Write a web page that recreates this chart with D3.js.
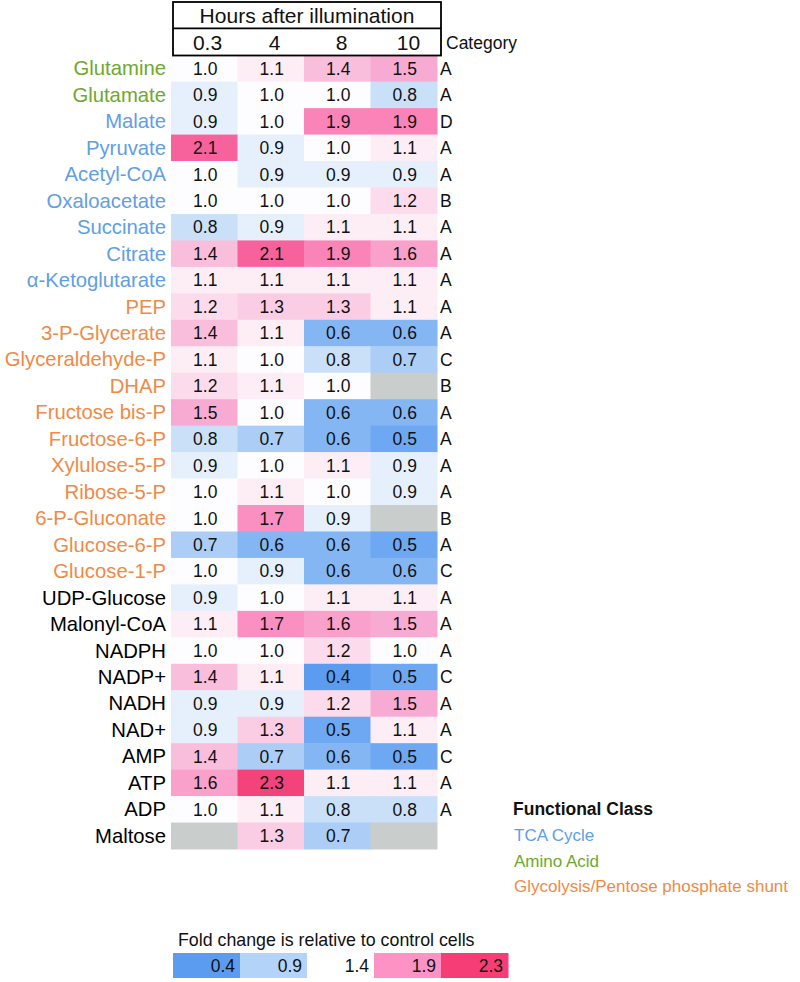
<!DOCTYPE html>
<html>
<head>
<meta charset="utf-8">
<script src="https://cdn.jsdelivr.net/npm/d3@7"></script>
<style>
  html, body { margin: 0; padding: 0; background: #fff; }
  svg { display: block; font-family: "Liberation Sans", Arial, Helvetica, sans-serif; }
</style>
</head>
<body>
<svg id="chart" width="800" height="982"></svg>
<script>
// ---------------- DATA ----------------
const timepoints = ["0.3", "4", "8", "10"];
const metabolites = [
  "Glutamine", "Glutamate", "Malate", "Pyruvate", "Acetyl-CoA", "Oxaloacetate",
  "Succinate", "Citrate", "α-Ketoglutarate", "PEP", "3-P-Glycerate", "Glyceraldehyde-P",
  "DHAP", "Fructose bis-P", "Fructose-6-P", "Xylulose-5-P", "Ribose-5-P", "6-P-Gluconate",
  "Glucose-6-P", "Glucose-1-P", "UDP-Glucose", "Malonyl-CoA", "NADPH", "NADP+",
  "NADH", "NAD+", "AMP", "ATP", "ADP", "Maltose"
];
// functional class of each metabolite: amino, tca, glyc, none
const functionalClass = [
  "amino", "amino", "tca", "tca", "tca", "tca",
  "tca", "tca", "tca", "glyc", "glyc", "glyc",
  "glyc", "glyc", "glyc", "glyc", "glyc", "glyc",
  "glyc", "glyc", "none", "none", "none", "none",
  "none", "none", "none", "none", "none", "none"
];
const categories = [
  "A", "A", "D", "A", "A", "B", "A", "A", "A", "A", "A", "C",
  "B", "A", "A", "A", "A", "B", "A", "C", "A", "A", "A", "C",
  "A", "A", "C", "A", "A", ""
];
// fold change values per time point (null = missing)
const values_0_3 = [1.0, 0.9, 0.9, 2.1, 1.0, 1.0, 0.8, 1.4, 1.1, 1.2, 1.4, 1.1, 1.2, 1.5, 0.8, 0.9, 1.0, 1.0, 0.7, 1.0, 0.9, 1.1, 1.0, 1.4, 0.9, 0.9, 1.4, 1.6, 1.0, null];
const values_4   = [1.1, 1.0, 1.0, 0.9, 0.9, 1.0, 0.9, 2.1, 1.1, 1.3, 1.1, 1.0, 1.1, 1.0, 0.7, 1.0, 1.1, 1.7, 0.6, 0.9, 1.0, 1.7, 1.0, 1.1, 0.9, 1.3, 0.7, 2.3, 1.1, 1.3];
const values_8   = [1.4, 1.0, 1.9, 1.0, 0.9, 1.0, 1.1, 1.9, 1.1, 1.3, 0.6, 0.8, 1.0, 0.6, 0.6, 1.1, 1.0, 0.9, 0.6, 0.6, 1.1, 1.6, 1.2, 0.4, 1.2, 0.5, 0.6, 1.1, 0.8, 0.7];
const values_10  = [1.5, 0.8, 1.9, 1.1, 0.9, 1.2, 1.1, 1.6, 1.1, 1.1, 0.6, 0.7, null, 0.6, 0.5, 0.9, 0.9, null, 0.5, 0.6, 1.1, 1.5, 1.0, 0.5, 1.5, 1.1, 0.5, 1.1, 0.8, null];
const seriesValues = [values_0_3, values_4, values_8, values_10];

// colour legend
const legendValues = [0.4, 0.9, 1.4, 1.9, 2.3];
const legendColors = ["#5b9cf0", "#b3d4f8", "#ffffff", "#fd92c5", "#f73d76"];

// functional class legend
const classKeys = ["tca", "amino", "glyc"];
const classLabels = ["TCA Cycle", "Amino Acid", "Glycolysis/Pentose phosphate shunt"];

// ---------------- STYLE ----------------
const classColor = { amino: "#6fa82c", tca: "#619ee3", glyc: "#ef8a47", none: "#000000" };
const stopValues = [0.4, 0.5, 0.6, 0.7, 0.8, 0.9, 1.0, 1.1, 1.2, 1.3, 1.4, 1.5, 1.6, 1.7, 1.9, 2.1, 2.3];
const stopColors = ["#5b9bf0", "#6ea8f2", "#84b6f4", "#abcdf6", "#cae0f9", "#e5f0fc", "#fdfdff",
                    "#fdeef6", "#fcdcec", "#fbcde4", "#f9bedc", "#f8abd2", "#f9a0cb", "#fa90c1",
                    "#fa83b8", "#f7629c", "#f2447a"];
const missingColor = "#c9cecd";

const color = d3.scaleLinear().domain(stopValues).range(stopColors).clamp(true);

const svg = d3.select("#chart");

// scales
const x = d3.scaleBand().domain(timepoints).range([171, 437]).padding(0);
const y = d3.scaleBand().domain(metabolites).range([55.2, 849]).padding(0);

// flatten cells
const cells = [];
metabolites.forEach((m, i) => {
  timepoints.forEach((t, j) => {
    cells.push({ m, t, v: seriesValues[j][i] });
  });
});

// cells
svg.append("g").selectAll("rect")
  .data(cells)
  .join("rect")
  .attr("x", d => x(d.t))
  .attr("y", d => y(d.m))
  .attr("width", x.bandwidth() + 0.5)
  .attr("height", y.bandwidth() + 0.5)
  .attr("fill", d => d.v == null ? missingColor : color(d.v));

svg.append("g").selectAll("text")
  .data(cells.filter(d => d.v != null))
  .join("text")
  .attr("x", d => x(d.t) + x.bandwidth() / 2 + 1)
  .attr("y", d => y(d.m) + y.bandwidth() / 2 + 6.3)
  .attr("text-anchor", "middle")
  .attr("font-size", 17.5)
  .attr("fill", "#111")
  .text(d => d.v.toFixed(1));

// row labels
svg.append("g").selectAll("text")
  .data(metabolites)
  .join("text")
  .attr("x", 166)
  .attr("y", d => y(d) + y.bandwidth() / 2 + 7)
  .attr("text-anchor", "end")
  .attr("font-size", 20.3)
  .attr("fill", (d, i) => classColor[functionalClass[i]])
  .text(d => d);

// category letters
svg.append("g").selectAll("text")
  .data(metabolites)
  .join("text")
  .attr("x", 440)
  .attr("y", d => y(d) + y.bandwidth() / 2 + 6.3)
  .attr("font-size", 17.5)
  .attr("fill", "#111")
  .text((d, i) => categories[i]);

// header box
const hx = d3.scaleBand().domain(timepoints).range([173, 441]);
const header = svg.append("g");
header.append("rect")
  .attr("x", 173).attr("y", 2).attr("width", 268).attr("height", 53.5)
  .attr("fill", "none").attr("stroke", "#000").attr("stroke-width", 1.8);
header.append("line")
  .attr("x1", 173).attr("x2", 441).attr("y1", 28.3).attr("y2", 28.3)
  .attr("stroke", "#000").attr("stroke-width", 1.8);
header.append("text")
  .attr("x", 307).attr("y", 23)
  .attr("text-anchor", "middle").attr("font-size", 21).attr("fill", "#111")
  .text("Hours after illumination");
header.selectAll("text.tp")
  .data(timepoints)
  .join("text")
  .attr("class", "tp")
  .attr("x", d => hx(d) + hx.bandwidth() / 2 + 1)
  .attr("y", 50)
  .attr("text-anchor", "middle").attr("font-size", 21).attr("fill", "#111")
  .text(d => d);
header.append("text")
  .attr("x", 446).attr("y", 49)
  .attr("font-size", 17.5).attr("fill", "#111")
  .text("Category");

// functional class legend
const fl = svg.append("g");
fl.append("text")
  .attr("x", 513).attr("y", 815)
  .attr("font-size", 17.5).attr("font-weight", "bold").attr("fill", "#111")
  .text("Functional Class");
fl.selectAll("text.cl")
  .data(classKeys)
  .join("text")
  .attr("class", "cl")
  .attr("x", 514)
  .attr("y", (d, i) => 841 + i * 25.5)
  .attr("font-size", 17)
  .attr("fill", d => classColor[d])
  .text((d, i) => classLabels[i]);

// colour legend
const lx = d3.scaleBand().domain(legendValues.map(String)).range([173, 508]);
const cl = svg.append("g");
cl.append("text")
  .attr("x", 178).attr("y", 946)
  .attr("font-size", 17.8).attr("fill", "#111")
  .text("Fold change is relative to control cells");
cl.selectAll("rect")
  .data(legendValues)
  .join("rect")
  .attr("x", d => lx(String(d)))
  .attr("y", 953)
  .attr("width", lx.bandwidth() + 0.5)
  .attr("height", 25)
  .attr("fill", (d, i) => legendColors[i]);
cl.selectAll("text.lv")
  .data(legendValues)
  .join("text")
  .attr("class", "lv")
  .attr("x", d => lx(String(d)) + lx.bandwidth() - 5)
  .attr("y", 972)
  .attr("text-anchor", "end")
  .attr("font-size", 17.5)
  .attr("fill", "#111")
  .text(d => d.toFixed(1));
</script>
</body>
</html>
